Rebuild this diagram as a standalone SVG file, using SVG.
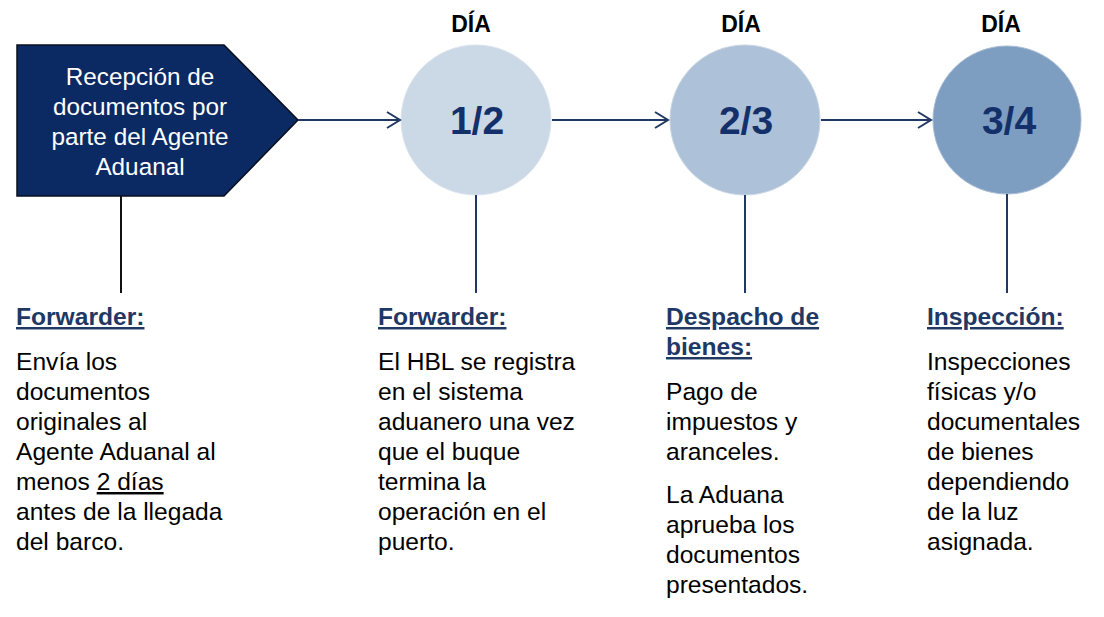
<svg xmlns="http://www.w3.org/2000/svg" width="1104" height="617" viewBox="0 0 1104 617">
  <style>
    text { font-family: "Liberation Sans", Arial, sans-serif; }
    .body { font-size: 24.6px; fill: #000000; }
    .head { font-size: 24.6px; font-weight: bold; fill: #1F3864; text-decoration: underline; }
    .dia { font-size: 23px; font-weight: bold; fill: #000000; text-anchor: middle; }
    .num { font-size: 39px; font-weight: bold; fill: #13306A; text-anchor: middle; }
    .box { font-size: 24.3px; fill: #FFFFFF; text-anchor: middle; }
    .conn { stroke: #1F3864; stroke-width: 2; fill: none; }
  </style>
  <defs>
    <marker id="arrow" markerUnits="userSpaceOnUse" markerWidth="16" markerHeight="20" refX="14" refY="9" orient="auto">
      <path d="M1,1 L14,9 L1,17" fill="none" stroke="#1F3864" stroke-width="2"/>
    </marker>
  </defs>
  <rect width="1104" height="617" fill="#FFFFFF"/>

  <g id="node-recepcion">
    <polygon points="17,45 224,45 298,120 224,196 17,196" fill="#0B2A63" stroke="#0A0F1E" stroke-width="1.5"/>
    <text class="box" x="140" y="85">Recepción de</text>
    <text class="box" x="140" y="115">documentos por</text>
    <text class="box" x="140" y="145">parte del Agente</text>
    <text class="box" x="140" y="175">Aduanal</text>
  </g>

  <g id="node-dia-1-2">
    <text class="dia" x="471" y="32">DÍA</text>
    <circle cx="476" cy="120" r="75" fill="#CBD8E6" stroke="#DCE4EE" stroke-width="1"/>
    <text class="num" x="477" y="134">1/2</text>
  </g>

  <g id="node-dia-2-3">
    <text class="dia" x="741" y="32">DÍA</text>
    <circle cx="745" cy="120" r="75" fill="#ADC2D8" stroke="#C8D5E3" stroke-width="1"/>
    <text class="num" x="746" y="134">2/3</text>
  </g>

  <g id="node-dia-3-4">
    <text class="dia" x="1001" y="32">DÍA</text>
    <circle cx="1007" cy="120" r="74" fill="#7D9DC1" stroke="#A6BBD3" stroke-width="1"/>
    <text class="num" x="1009" y="134">3/4</text>
  </g>

  <g id="connectors">
    <line class="conn" x1="298" y1="120" x2="400" y2="120" marker-end="url(#arrow)"/>
    <line class="conn" x1="552" y1="120" x2="668" y2="120" marker-end="url(#arrow)"/>
    <line class="conn" x1="821" y1="120" x2="931" y2="120" marker-end="url(#arrow)"/>
    <line x1="121" y1="196" x2="121" y2="293" stroke="#111111" stroke-width="2"/>
    <line class="conn" x1="476" y1="195" x2="476" y2="293"/>
    <line class="conn" x1="745" y1="195" x2="745" y2="293"/>
    <line class="conn" x1="1007" y1="194" x2="1007" y2="293"/>
  </g>

  <g id="text-forwarder-1">
    <text class="head" x="16" y="325">Forwarder:</text>
    <text class="body" x="16" y="370">Envía los</text>
    <text class="body" x="16" y="400">documentos</text>
    <text class="body" x="16" y="430">originales al</text>
    <text class="body" x="16" y="460">Agente Aduanal al</text>
    <text class="body" x="16" y="490">menos <tspan text-decoration="underline">2 días</tspan></text>
    <text class="body" x="16" y="520">antes de la llegada</text>
    <text class="body" x="16" y="550">del barco.</text>
  </g>

  <g id="text-forwarder-2">
    <text class="head" x="378" y="325">Forwarder:</text>
    <text class="body" x="378" y="370">El HBL se registra</text>
    <text class="body" x="378" y="400">en el sistema</text>
    <text class="body" x="378" y="430">aduanero una vez</text>
    <text class="body" x="378" y="460">que el buque</text>
    <text class="body" x="378" y="490">termina la</text>
    <text class="body" x="378" y="520">operación en el</text>
    <text class="body" x="378" y="550">puerto.</text>
  </g>

  <g id="text-despacho">
    <text class="head" x="666" y="325">Despacho de</text>
    <text class="head" x="666" y="355">bienes:</text>
    <text class="body" x="666" y="400">Pago de</text>
    <text class="body" x="666" y="430">impuestos y</text>
    <text class="body" x="666" y="460">aranceles.</text>
    <text class="body" x="666" y="503">La Aduana</text>
    <text class="body" x="666" y="533">aprueba los</text>
    <text class="body" x="666" y="563">documentos</text>
    <text class="body" x="666" y="593">presentados.</text>
  </g>

  <g id="text-inspeccion">
    <text class="head" x="927" y="325">Inspección:</text>
    <text class="body" x="927" y="370">Inspecciones</text>
    <text class="body" x="927" y="400">físicas y/o</text>
    <text class="body" x="927" y="430">documentales</text>
    <text class="body" x="927" y="460">de bienes</text>
    <text class="body" x="927" y="490">dependiendo</text>
    <text class="body" x="927" y="520">de la luz</text>
    <text class="body" x="927" y="550">asignada.</text>
  </g>
</svg>
